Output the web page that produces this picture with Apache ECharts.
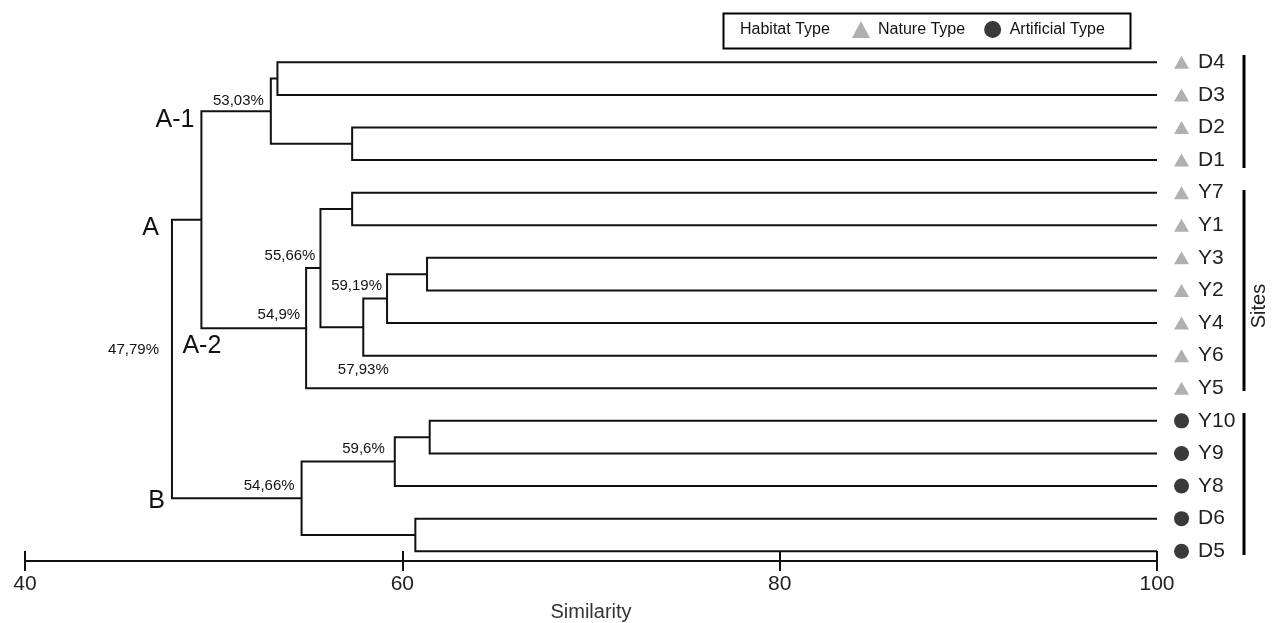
<!DOCTYPE html>
<html><head><meta charset="utf-8">
<script src="https://cdn.jsdelivr.net/npm/echarts@6/dist/echarts.min.js"></script>
<style>html,body{margin:0;padding:0;background:#fff}#c{width:1274px;height:623px}</style>
</head><body><div id="c"></div>
<script>
// ---- data ----
const leaves = ['D4','D3','D2','D1','Y7','Y1','Y3','Y2','Y4','Y6','Y5','Y10','Y9','Y8','D6','D5'];
const leafType = ['Nature Type','Nature Type','Nature Type','Nature Type','Nature Type','Nature Type',
  'Nature Type','Nature Type','Nature Type','Nature Type','Nature Type',
  'Artificial Type','Artificial Type','Artificial Type','Artificial Type','Artificial Type'];
const mergeNames = ['n0','n1','n2','n3','n4','n5','n6','n7','n8','n9','n10','n11','n12','n13','n14'];
const mergeLeft  = ['D4','D2','n0','Y7','Y3','n4','n5','n3','n7','n2','Y10','n10','D6','n11','n9'];
const mergeRight = ['D3','D1','n1','Y1','Y2','Y4','Y6','n6','Y5','n8','Y9','Y8','D5','n12','n13'];
const mergeSimilarity = [53.38,57.34,53.03,57.34,61.31,59.19,57.93,55.66,54.90,49.35,61.45,59.60,60.69,54.66,47.79];
const nodeLabelText = ['53,03%','55,66%','54,9%','59,19%','57,93%','47,79%','59,6%','54,66%'];
const nodeLabelNode = ['n2','n7','n8','n5','n6','n14','n11','n13'];
const clusterText = ['A-1','A','A-2','B'];
const clusterAnchorX = ['n9','n14','n9','n14'];
const clusterAnchorY = ['n2','n9','n8','n13'];
const xTicks = [40, 60, 80, 100];

// ---- styles / placement ----
const FONT = '"Liberation Sans", Arial, sans-serif';
const INK = '#111';
const MARKER_X = 101.3;
const GRID = {left: 25, width: 1132, top: 46, height: 515};
const nodeLabelPlace = [
  {dx:-7, dy:-3, align:'right', va:'bottom'},
  {dx:-5, dy:-5, align:'right', va:'bottom'},
  {dx:-6, dy:-6, align:'right', va:'bottom'},
  {dx:-5, dy:-5, align:'right', va:'bottom'},
  {dx:0,  dy:35, align:'center', va:'top'},
  {dx:-13,dy:-9, align:'right', va:'middle'},
  {dx:-10,dy:-5, align:'right', va:'bottom'},
  {dx:-7, dy:-5, align:'right', va:'bottom'}
];
const clusterPlace = [
  {dx:-7, dy:9, align:'right'},
  {dx:-13,dy:8, align:'right'},
  {dx:-19,dy:17.5, align:'left'},
  {dx:-7, dy:3, align:'right'}
];

// ---- build tree geometry in data space ----
const pos = {};
leaves.forEach((l, i) => { pos[l] = {x: 100, y: i}; });
const links = [];
mergeNames.forEach((n, k) => {
  const a = pos[mergeLeft[k]], b = pos[mergeRight[k]], s = mergeSimilarity[k];
  links.push({coords: [[a.x, a.y], [s, a.y], [s, b.y], [b.x, b.y]]});
  pos[n] = {x: s, y: (a.y + b.y) / 2};
});

const annot = [];
nodeLabelText.forEach((t, i) => {
  const p = pos[nodeLabelNode[i]], pl = nodeLabelPlace[i];
  annot.push({value: [p.x, p.y], label: {show: true, formatter: t, position: 'inside', offset: [pl.dx, pl.dy],
    align: pl.align, verticalAlign: pl.va, fontSize: 15, color: '#111', fontFamily: FONT}});
});
clusterText.forEach((t, i) => {
  const pl = clusterPlace[i];
  annot.push({value: [pos[clusterAnchorX[i]].x, pos[clusterAnchorY[i]].y], label: {show: true, formatter: t,
    position: 'inside', offset: [pl.dx, pl.dy], align: pl.align, verticalAlign: 'middle', fontSize: 25,
    color: '#111', fontFamily: FONT}});
});

function markerSeries(type, symbol, size, color) {
  return {
    type: 'scatter', name: type, clip: false, symbol: symbol, symbolSize: size,
    itemStyle: {color: color, opacity: 1},
    label: {show: true, position: 'right', distance: 9, formatter: '{b}', fontSize: 21, color: '#222', fontFamily: FONT},
    data: leaves.map((l, i) => leafType[i] === type ? {name: l, value: [MARKER_X, i]} : null).filter(Boolean),
    z: 5
  };
}

const chart = echarts.init(document.getElementById('c'), null, {renderer: 'canvas'});
const axisCommon = {type: 'value', min: xTicks[0], max: xTicks[xTicks.length - 1], interval: xTicks[1] - xTicks[0],
  position: 'bottom', splitLine: {show: false}};
chart.setOption({
  animation: false,
  backgroundColor: '#fff',
  grid: [
    Object.assign({containLabel: false, outerBoundsMode: 'none'}, GRID),
    Object.assign({containLabel: false, outerBoundsMode: 'none'}, GRID)
  ],
  xAxis: [
    Object.assign({}, axisCommon, {
      gridIndex: 0,
      axisLine: {onZero: false, lineStyle: {color: INK, width: 2}},
      axisTick: {show: true, inside: false, length: 10, lineStyle: {color: INK, width: 2}},
      axisLabel: {fontSize: 21, color: '#222', margin: 13, fontFamily: FONT},
      name: 'Similarity', nameLocation: 'middle', nameGap: 41,
      nameTextStyle: {fontSize: 20, color: '#333', fontFamily: FONT}
    }),
    Object.assign({}, axisCommon, {
      gridIndex: 1,
      axisLine: {show: false, onZero: false},
      axisTick: {show: true, inside: true, length: 10, lineStyle: {color: INK, width: 2}},
      axisLabel: {show: false}
    })
  ],
  yAxis: [
    {gridIndex: 0, type: 'value', inverse: true, min: -0.5, max: 15.3, show: false},
    {gridIndex: 1, type: 'value', inverse: true, min: -0.5, max: 15.3, show: false}
  ],
  legend: {
    left: 852, top: 21, padding: 0, itemWidth: 18, itemHeight: 17, itemGap: 19,
    textStyle: {fontSize: 16, color: '#111', fontFamily: FONT, padding: [0, 0, 0, 3]},
    data: [{name: 'Nature Type', icon: 'triangle'}, {name: 'Artificial Type', icon: 'circle'}],
    selectedMode: false
  },
  graphic: [
    {type: 'rect', left: 721, top: 11, shape: {width: 407, height: 35}, style: {fill: 'none', stroke: '#000', lineWidth: 2}, z: 1},
    {type: 'text', x: 740, y: 30, style: {text: 'Habitat Type', fontSize: 16, fill: '#111', fontFamily: FONT, verticalAlign: 'middle'}, z: 2},
    {type: 'line', shape: {x1: 1244, y1: 55, x2: 1244, y2: 168}, style: {stroke: '#000', lineWidth: 3}},
    {type: 'line', shape: {x1: 1244, y1: 190, x2: 1244, y2: 391}, style: {stroke: '#000', lineWidth: 3}},
    {type: 'line', shape: {x1: 1244, y1: 413, x2: 1244, y2: 555}, style: {stroke: '#000', lineWidth: 3}},
    {type: 'text', x: 1259, y: 306, rotation: Math.PI / 2,
      style: {text: 'Sites', fontSize: 20, fill: '#222', fontFamily: FONT, align: 'center', verticalAlign: 'middle'}}
  ],
  series: [
    {type: 'lines', coordinateSystem: 'cartesian2d', xAxisIndex: 0, yAxisIndex: 0, polyline: true, clip: false, silent: true,
      lineStyle: {color: INK, width: 2, opacity: 1}, data: links},
    markerSeries('Nature Type', 'triangle', [15, 13], '#b0b0b0'),
    markerSeries('Artificial Type', 'circle', 15, '#3a3a3a'),
    {type: 'scatter', clip: false, symbolSize: 1, itemStyle: {color: 'rgba(0,0,0,0)', opacity: 1}, silent: true, data: annot, z: 6}
  ]
});
</script></body></html>
